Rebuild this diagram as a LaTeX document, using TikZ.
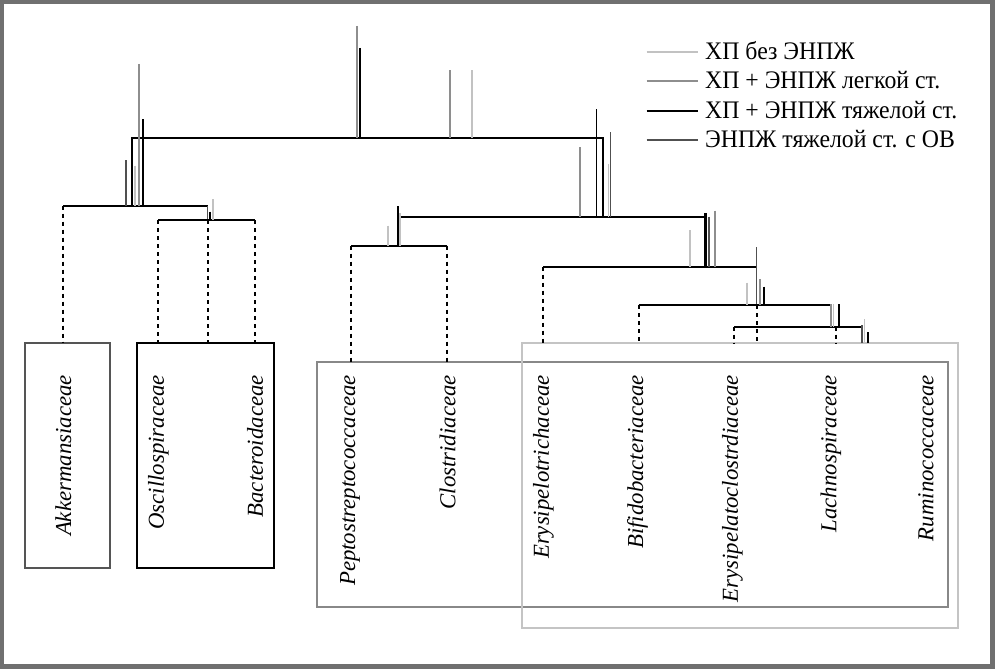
\documentclass[tikz,border=0pt]{standalone}
\usepackage{fontspec}
\setmainfont{Liberation Serif}
\definecolor{cA}{HTML}{C2C2C2}
\definecolor{cB}{HTML}{8E8E8E}
\definecolor{cC}{HTML}{000000}
\definecolor{cD}{HTML}{505050}
\definecolor{frame}{HTML}{707070}
\definecolor{boxgray}{HTML}{888888}
\definecolor{boxlight}{HTML}{C4C4C4}
\definecolor{boxdark}{HTML}{555555}
\newcommand{\mytick}[4]{\draw[#1] (#2,#3) -- (#2,#4);}
\begin{document}
\begin{tikzpicture}[x=1pt,y=-1pt,
  tree/.style={line width=2pt,black},
  treedark/.style={line width=1.6pt,cD},
  dotline/.style={line width=2pt,black,dash pattern=on 4pt off 4pt},
  tA/.style={line width=1.7pt,cA},
  tB/.style={line width=1.7pt,cB},
  tC/.style={line width=2pt,cC},
  tD/.style={line width=1.7pt,cD},
  lab/.style={rotate=90,anchor=east,inner sep=0pt,font=\fontsize{22.8}{26}\selectfont\itshape},
  legtxt/.style={anchor=base west,inner sep=0pt,xscale=0.97,yscale=1.03,font=\fontsize{24.5}{28}\selectfont},
  legline/.style={line width=2pt},
  famgrp/.style={line width=2pt}
]
\useasboundingbox (0,0) rectangle (995,669);
\fill[frame] (0,0) rectangle (995,669);
\fill[white] (4,4) rectangle (989.5,663.5);

% ---- boxes
\draw[famgrp,boxdark] (25,343) rectangle (110,568);
\draw[famgrp,black] (137,343) rectangle (274,568);
\draw[famgrp,boxgray] (317,361.5) rectangle (948,606.7);
\draw[famgrp,boxlight] (521.6,343.3) rectangle (958,627.7);

% ---- labels
\node[lab] (akk) at (63.3,375) {Akkermansiaceae};
\node[lab] (osc) at (158.3,375) {Oscillospiraceae};
\node[lab] (bac) at (255,375) {Bacteroidaceae};
\node[lab] (pep) at (350,375) {Peptostreptococcaceae};
\node[lab] (clo) at (447.5,375) {Clostridiaceae};
\node[lab] (ery) at (543.5,375) {Erysipelotrichaceae};
\node[lab] (bif) at (637.5,375) {Bifidobacteriaceae};
\node[lab] (erc) at (732.5,375) {Erysipelatoclostrdiaceae};
\node[lab] (lac) at (831,375) {Lachnospiraceae};
\node[lab] (rum) at (926,375) {Ruminococcaceae};

% ---- tree coordinates
\coordinate (n1l) at (132.3,138.3);
\coordinate (n1r) at (602.7,138.3);
\coordinate (n1lb) at (132.3,205.7);
\coordinate (n1rb) at (602.7,216.7);
\coordinate (hl1) at (63.3,205.7);
\coordinate (hl2) at (207.5,205.7);
\coordinate (hl2b) at (207.5,220);
\coordinate (hm1) at (158.3,220);
\coordinate (hm2) at (255,220);
\coordinate (h2l) at (398,216.7);
\coordinate (h2r) at (704.5,216.7);
\coordinate (c1t) at (397.5,206);
\coordinate (c1b) at (397.5,245.7);
\coordinate (hc1) at (351,245.7);
\coordinate (hc2) at (446.7,245.7);
\coordinate (h2rt) at (705,213);
\coordinate (h2rb) at (705,266.7);
\coordinate (h31) at (543,266.7);
\coordinate (h32) at (756.5,266.7);
\coordinate (h3t) at (756.5,247.3);
\coordinate (h3b) at (756.5,305);
\coordinate (h41) at (638.5,305);
\coordinate (h42) at (831.5,305);
\coordinate (h51) at (734.3,326.7);
\coordinate (h52) at (862,326.7);
\coordinate (h5t) at (862,325);
\coordinate (h5b) at (862,343.3);
\coordinate (lacd) at (835.5,326.7);
\coordinate (midd) at (208.3,220);

% ---- tree lines
\draw[tree] (n1lb) -- (n1l) -- (n1r) -- (n1rb);
\draw[tree] (hl1) -- (hl2);
\draw[treedark] (hl2) -- (hl2b);
\draw[tree] (hm1) -- (hm2);
\draw[tree] (h2l) -- (h2r);
\draw[tree] (c1t) -- (c1b);
\draw[tree] (hc1) -- (hc2);
\draw[line width=3pt,black] (h2rt) -- (h2rb);
\draw[tree] (h31) -- (h32);
\draw[treedark] (h3t) -- (h3b);
\draw[tree] (h41) -- (h42);
\draw[tree] (h51) -- (h52);
\draw[treedark] (h5t) -- (h5b);

% ---- dotted drops
\draw[dotline] (hl1) -- (hl1 |- 0,343);
\draw[dotline] (hm1) -- (hm1 |- 0,343);
\draw[dotline] (midd) -- (midd |- 0,343);
\draw[dotline] (hm2) -- (hm2 |- 0,343);
\draw[dotline] (hc1) -- (hc1 |- 0,361.5);
\draw[dotline] (hc2) -- (hc2 |- 0,361.5);
\draw[dotline] (h31) -- (h31 |- 0,343.3);
\draw[dotline] (h41) -- (h41 |- 0,343.3);
\draw[dotline] (h51) -- (h51 |- 0,343.3);
\draw[dotline] (h3b) -- (h3b |- 0,343.3);
\draw[dotline] (lacd) -- (lacd |- 0,343.3);

% ---- group bars
\mytick{tD}{126}{160}{205.7}
\mytick{tA}{135}{165.7}{205.7}
\mytick{tB}{139.3}{64}{205.7}
\mytick{tC}{142.5}{119}{205.7}
\mytick{tC}{209.5}{211.7}{220}
\mytick{tA}{213.3}{199.3}{220}
\mytick{tB}{357.3}{26}{138.3}
\mytick{tC}{359.7}{48}{138.3}
\mytick{tB}{450}{70}{138.3}
\mytick{tA}{472.3}{70}{138.3}
\mytick{tB}{580}{147}{216.7}
\mytick{tC,line width=1.5pt}{596.7}{109}{216.7}
\mytick{tA}{608.5}{164}{216.7}
\mytick{tD}{610.5}{132}{216.7}
\mytick{tA}{388.3}{225.7}{245.7}
\mytick{tA}{400.3}{213}{245.7}
\mytick{tA}{690}{230}{266.7}
\mytick{tD}{709}{216.7}{266.7}
\mytick{tB}{715}{210.7}{266.7}
\mytick{tA}{746.7}{282.7}{305}
\mytick{tB}{760}{279.3}{305}
\mytick{tC}{763.7}{286.7}{305}
\mytick{tB}{831}{304}{326.7}
\mytick{tA}{833.6}{304}{326.7}
\mytick{tC}{839.3}{304}{326.7}
\mytick{tA}{864.5}{319.3}{343.3}
\mytick{tC}{867.5}{332.3}{343.3}

% ---- legend
\coordinate (l1a) at (646.7,51.7); \coordinate (l1b) at (698.3,51.7);
\coordinate (l2a) at (646.7,81);   \coordinate (l2b) at (698.3,81);
\coordinate (l3a) at (646.7,110.7);\coordinate (l3b) at (698.3,110.7);
\coordinate (l4a) at (646.7,140);  \coordinate (l4b) at (698.3,140);
\draw[legline,cA] (l1a) -- (l1b);
\draw[legline,cB] (l2a) -- (l2b);
\draw[legline,cC] (l3a) -- (l3b);
\draw[legline,cD] (l4a) -- (l4b);
\node[legtxt] (g1) at (705,59.5) {ХП без ЭНПЖ};
\node[legtxt] (g2) at (705,88.8) {ХП + ЭНПЖ легкой ст.};
\node[legtxt] (g3) at (705,118.5) {ХП + ЭНПЖ тяжелой ст.};
\node[legtxt] (g4) at (705,147.8) {ЭНПЖ тяжелой ст. с ОВ};
\end{tikzpicture}
\end{document}
